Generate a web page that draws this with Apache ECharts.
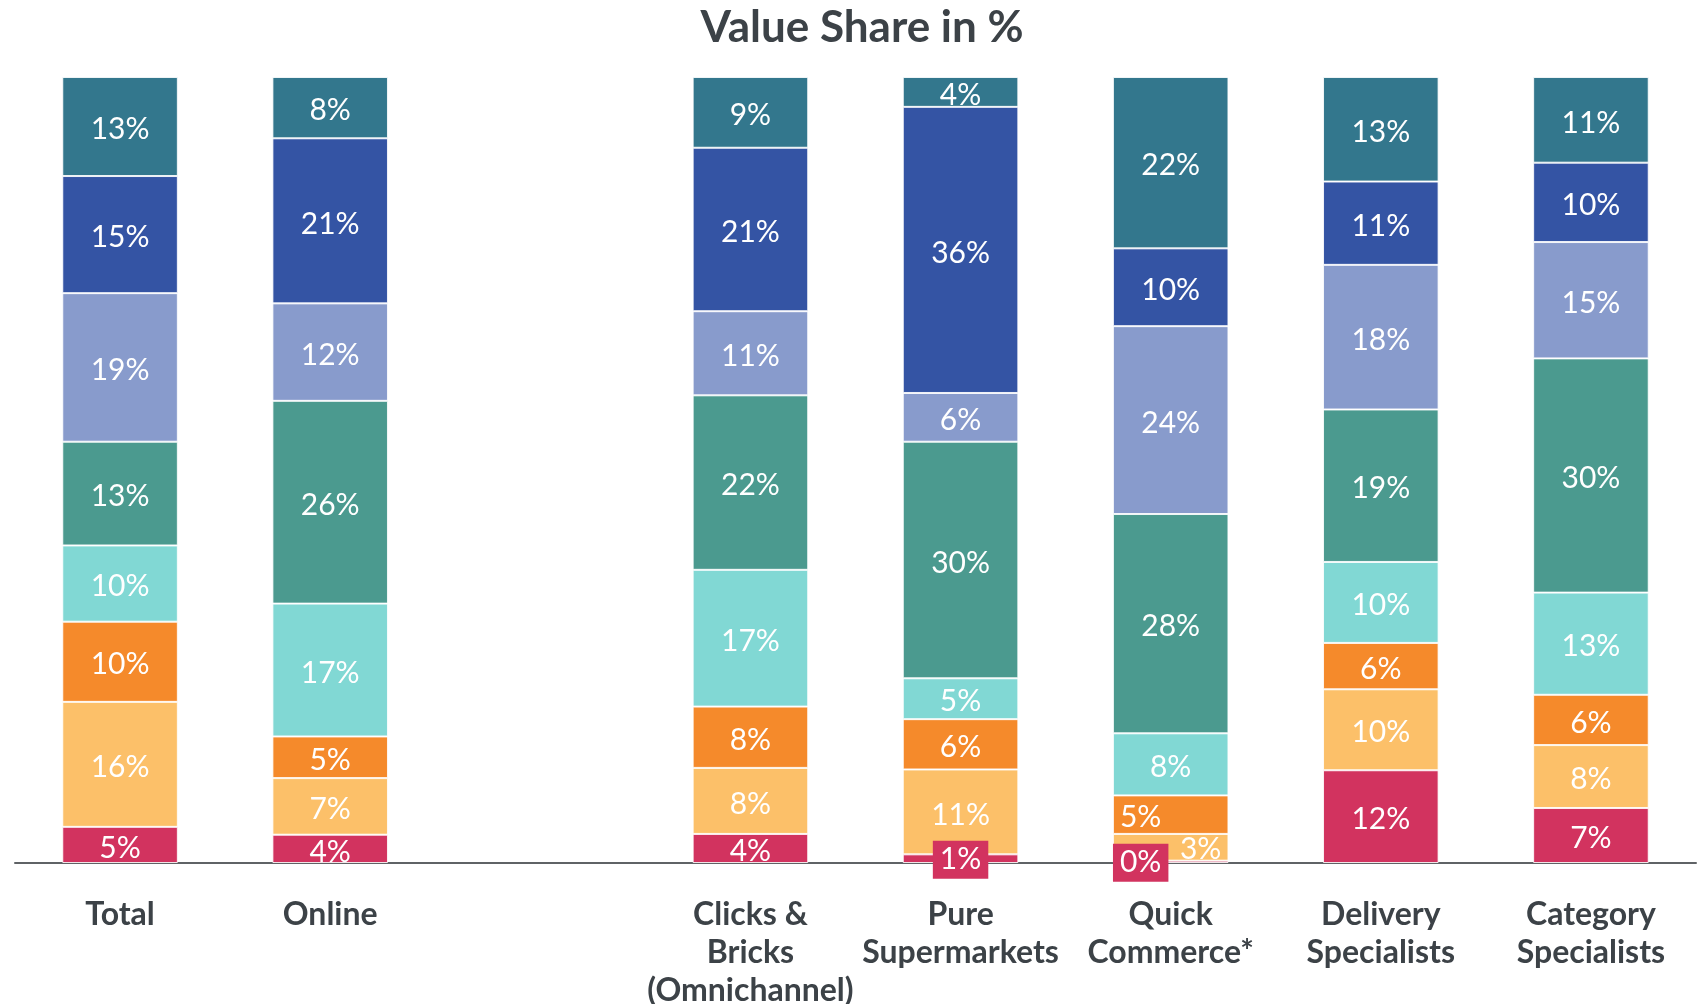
<!DOCTYPE html>
<html>
<head>
<meta charset="utf-8">
<script src="https://cdn.jsdelivr.net/npm/echarts@6/dist/echarts.min.js"></script>
<style>
  html, body { margin: 0; padding: 0; background: #fff; }
  #chart { width: 1699px; height: 1004px; }
</style>
</head>
<body>
<div id="chart"></div>
<script>
// categories (empty slot is the gap between Online and the channel bars)
const categories = ['Total', 'Online', '', 'Clicks &\nBricks\n(Omnichannel)', 'Pure\nSupermarkets', 'Quick\nCommerce*', 'Delivery\nSpecialists', 'Category\nSpecialists'];

// share values, bottom segment first
const seg1 = [4.6, 3.6, null, 3.7, 1.1, 0.3, 11.8, 7.0];
const seg2 = [15.9, 7.2, null, 8.4, 10.8, 3.4, 10.3, 8.0];
const seg3 = [10.2, 5.3, null, 7.8, 6.4, 4.9, 5.9, 6.4];
const seg4 = [9.7, 16.9, null, 17.4, 5.2, 7.9, 10.3, 13.0];
const seg5 = [13.2, 25.8, null, 22.2, 30.1, 27.9, 19.4, 29.8];
const seg6 = [18.9, 12.4, null, 10.7, 6.2, 23.9, 18.4, 14.8];
const seg7 = [14.9, 21.0, null, 20.8, 36.4, 9.9, 10.6, 10.1];
const seg8 = [12.6, 7.8, null, 9.0, 3.8, 21.8, 13.3, 10.9];

const segments = [seg1, seg2, seg3, seg4, seg5, seg6, seg7, seg8];
const colors = ['#d2335f', '#fcc069', '#f58a2b', '#81d8d4', '#4b9a8f', '#889bcc', '#3454a4', '#33778d'];

const FONT = 'Lato, "Noto Sans", sans-serif';
const TEXT = '#3c4247';

// tweak a few crowded labels (Quick Commerce bottom, tiny slivers)
function labelFor(si, ci, v) {
  if (v == null) return undefined;
  const lbl = {};
  if (si === 0 && v < 2) {
    lbl.backgroundColor = colors[0];
    lbl.padding = [5, 7, 3, 7];
    lbl.offset = [0, 1];
  }
  if (ci === 5 && (si === 0 || si === 2)) lbl.offset = [-30, si === 0 ? 1 : 3];
  if (ci === 5 && si === 1) lbl.offset = [30, 2];
  return lbl;
}

const series = segments.map((vals, si) => ({
  name: 'seg' + (si + 1),
  type: 'bar',
  stack: 'share',
  barWidth: '55%',
  itemStyle: { color: colors[si], borderColor: 'rgba(255,255,255,0.85)', borderWidth: 1 },
  label: {
    show: true,
    position: 'inside',
    offset: [0, 3],
    color: '#fff',
    fontFamily: FONT,
    fontSize: 30,
    textBorderWidth: 0,
    formatter: (p) => (p.value == null ? '' : Math.round(p.value) + '%')
  },
  data: vals.map((v, ci) => {
    const l = labelFor(si, ci, v);
    return l && Object.keys(l).length ? { value: v, label: l } : v;
  }),
  z: si === 0 ? 3 : 2
}));

const chart = echarts.init(document.getElementById('chart'));
chart.setOption({
  animation: false,
  title: {
    text: 'Value Share in %',
    left: 857,
    textAlign: 'center',
    top: 1,
    textStyle: { fontFamily: FONT, fontSize: 44, fontWeight: 'bold', color: TEXT }
  },
  grid: { left: 15, right: 3, top: 77, bottom: 141, containLabel: false, outerBoundsMode: 'none' },
  xAxis: {
    type: 'category',
    data: categories,
    axisTick: { show: false },
    axisLine: { lineStyle: { color: '#5f6366', width: 2 } },
    axisLabel: {
      interval: 0,
      margin: 33,
      fontFamily: FONT,
      fontSize: 32,
      fontWeight: 'bold',
      lineHeight: 38,
      color: TEXT
    }
  },
  yAxis: {
    type: 'value',
    min: 0,
    max: 100,
    show: false,
    splitLine: { show: false }
  },
  series
});
</script>
</body>
</html>
